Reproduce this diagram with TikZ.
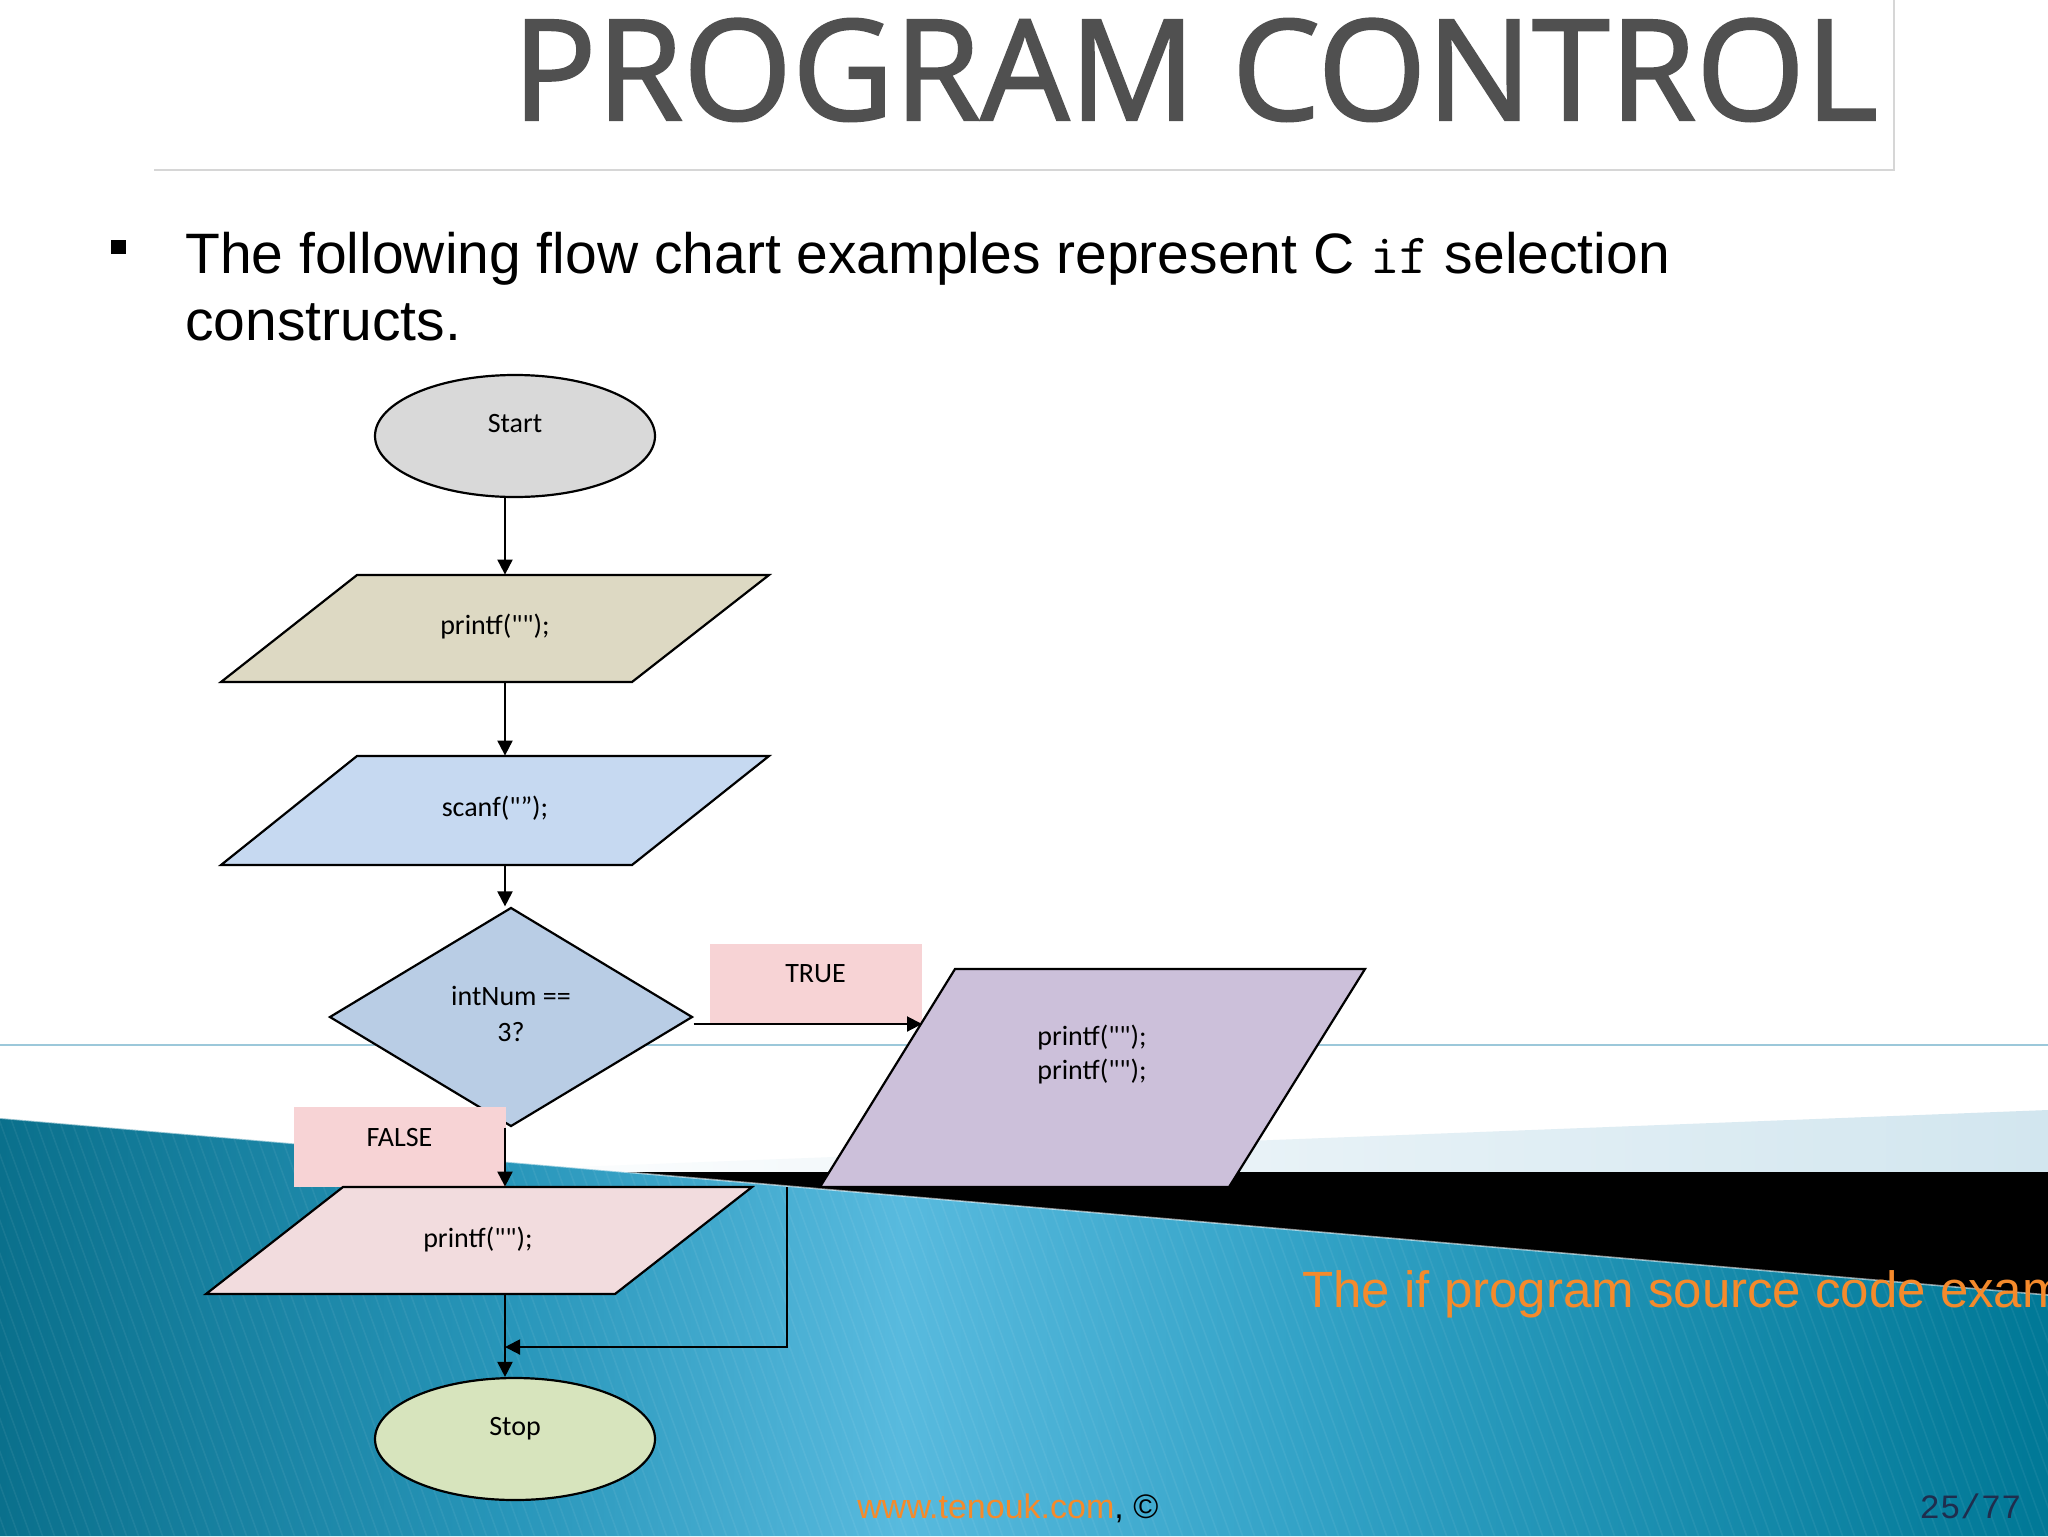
\documentclass[tikz,border=0pt]{standalone}
\usepackage{fontspec}
\setmainfont{Liberation Sans}
\newfontfamily\calfont{Carlito}
\newfontfamily\titlefont[FakeBold=1.6]{Open Sans}
\newfontfamily\codefont{Liberation Mono}
\usetikzlibrary{shapes.geometric,arrows.meta}
\definecolor{startgray}{HTML}{D9D9D9}
\definecolor{tanfill}{HTML}{DDD9C3}
\definecolor{scanblue}{HTML}{C6D9F1}
\definecolor{diamblue}{HTML}{B9CDE5}
\definecolor{purplefill}{HTML}{CCC0DA}
\definecolor{pinkfill}{HTML}{F2DCDE}
\definecolor{labelpink}{HTML}{F7D3D5}
\definecolor{stopgreen}{HTML}{D7E4BD}
\definecolor{titlegray}{HTML}{505050}
\definecolor{boxgray}{HTML}{D6D6D6}
\definecolor{lineblue}{HTML}{9CC8DA}
\definecolor{paleblue}{HTML}{D2E6EF}
\definecolor{tealA}{RGB}{10,112,140}
\definecolor{tealB}{RGB}{40,150,186}
\definecolor{tealC}{RGB}{88,186,222}
\definecolor{tealD}{RGB}{50,162,198}
\definecolor{tealE}{RGB}{0,120,150}
\definecolor{orangetext}{HTML}{F58A2B}
\definecolor{navytext}{HTML}{1F2D4D}
\pgfdeclarehorizontalshading{tealsh}{100bp}{color(0bp)=(tealA); color(25bp)=(tealA); color(37.5bp)=(tealB);
  color(47bp)=(tealC); color(57bp)=(tealD); color(75bp)=(tealE); color(100bp)=(tealE)}
\begin{document}
\begin{tikzpicture}[x=0.5pt,y=-0.5pt,
  flowtext/.style={font=\calfont\fontsize{14pt}{17pt}\selectfont, inner sep=0pt, align=center},
  term/.style={ellipse, draw, line width=1.1pt, minimum width=140pt, minimum height=61pt, inner sep=0pt,
    font=\calfont\fontsize{14pt}{17pt}\selectfont, text height=10pt, text depth=14pt},
  decision/.style={diamond, draw, line width=1.1pt, fill=diamblue, minimum width=181.5pt, minimum height=109.5pt,
    inner sep=0pt, align=center, font=\calfont\fontsize{14pt}{17pt}\selectfont},
  tag/.style={rectangle, fill=labelpink, minimum width=106pt, minimum height=40pt, inner sep=0pt,
    font=\calfont\fontsize{14pt}{17pt}\selectfont, text height=10pt, text depth=11pt},
  shapeline/.style={draw, line width=1.1pt, line join=miter},
  arr/.style={-{Triangle[length=7.5pt,width=7.5pt]}, line width=1pt}]
\useasboundingbox (0,0) rectangle (2048,1536);
\clip (0,0) rectangle (2048,1536);
% background
\fill[white] (0,0) rectangle (2048,1536);
\draw[lineblue, line width=1pt] (0,1045) -- (2048,1045);
\shade[left color=white, right color=paleblue] (420,1173) -- (2048,1110) -- (2048,1173) -- cycle;
\fill[black] (600,1172) rectangle (2048,1320);
\shade[shading=tealsh] (0,1118) -- (2048,1295) -- (2048,1536) -- (0,1536) -- cycle;
\begin{scope}
  \clip (0,1118) -- (2048,1295) -- (2048,1536) -- (0,1536) -- cycle;
  \foreach \i in {-200,-188,...,2100} {
    \draw[white, opacity=0.06, line width=0.8pt] (\i,1100) -- (\i+160,1540);
  }
\end{scope}
\draw[white, opacity=0.55, line width=0.8pt] (0,1118) -- (2048,1295);
% title
\draw[boxgray, line width=1pt] (154,170) -- (1894,170) -- (1894,0);
\node[anchor=base, inner sep=0pt, text=titlegray, font=\titlefont\fontsize{70pt}{70pt}\selectfont]
  (title) at (1195,120) {PROGRAM CONTROL};
% bullet text
\fill (111,240) rectangle (126,254);
\node[anchor=base west, inner sep=0pt, font=\fontsize{28.5pt}{34pt}\selectfont] (line1) at (185,273)
  {The following flow chart examples represent C {\ttfamily if} selection};
\node[anchor=base west, inner sep=0pt, font=\fontsize{28.5pt}{34pt}\selectfont] (line2) at (185,340)
  {constructs.};
% spine coordinate
\coordinate (sp) at (505,0);
% Start
\node[term, fill=startgray] (start) at (515,436) {Start};
% printf 1
\filldraw[shapeline, fill=tanfill] (357,575) -- (769,575) -- (632,682) -- (221,682) -- cycle;
\node[flowtext, minimum height=53.5pt] (p1) at (495,628.5) {\raisebox{4pt}{printf("");}};
% scanf
\filldraw[shapeline, fill=scanblue] (357,756) -- (769,756) -- (632,865) -- (221,865) -- cycle;
\node[flowtext, minimum height=54.5pt] (s1) at (495,810.5) {\raisebox{4pt}{scanf("”);}};
% decision
\node[decision] (d) at (511,1017) {\raisebox{9pt}{\begin{tabular}{@{}c@{}}intNum ==\\[1pt]3?\end{tabular}}};
% TRUE / FALSE labels
\node[tag] (true) at (815.5,983.5) {TRUE};
\node[tag] (false) at (399.5,1147) {FALSE};
% purple parallelogram
\filldraw[shapeline, fill=purplefill] (955,969) -- (1365,969) -- (1229,1187) -- (820,1187) -- cycle;
\node[flowtext] (p2) at (1092,1054) {printf("");\\printf("");};
\coordinate (p2in) at (922,1024);
% printf 3
\filldraw[shapeline, fill=pinkfill] (343,1187) -- (752,1187) -- (615,1294) -- (206,1294) -- cycle;
\node[flowtext, minimum height=53.5pt] (p3) at (478,1240.5) {\raisebox{3pt}{printf("");}};
% Stop
\node[term, fill=stopgreen] (stop) at (515,1439) {Stop};
% connectors
\draw[arr] (start.south -| sp) -- (p1.north -| sp);
\draw[arr] (p1.south -| sp) -- (s1.north -| sp);
\draw[arr] (s1.south -| sp) -- (d.north -| sp);
\draw[arr] (d.east |- p2in) -- (p2in);
\draw[arr] (d.south -| sp) -- (p3.north -| sp);
\draw[arr] (p3.south -| sp) -- (stop.north -| sp);
\coordinate (j) at (787,1187);
\coordinate (m) at (505,1347);
\draw[arr] (j) |- (m);
% orange caption and footer
\node[anchor=base west, inner sep=0pt, text=orangetext, font=\fontsize{25.5pt}{29pt}\selectfont] (caption) at (1302,1307)
  {The if program source code exam};
\node[anchor=base west, inner sep=0pt, font=\fontsize{17pt}{20pt}\selectfont] (footer) at (857,1518)
  {\textcolor{orangetext}{www.tenouk.com}, ©};
\node[anchor=base east, inner sep=0pt, text=navytext, font=\codefont\fontsize{17pt}{20pt}\selectfont] (page) at (2022,1518)
  {25/77};
\end{tikzpicture}
\end{document}
